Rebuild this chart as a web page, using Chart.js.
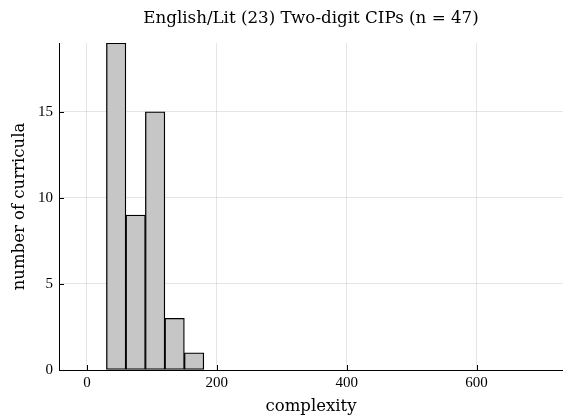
<!DOCTYPE html>
<html>
<head>
<meta charset="utf-8">
<script src="https://cdn.jsdelivr.net/npm/chart.js@4/dist/chart.umd.min.js"></script>
<style>
  html, body { margin: 0; padding: 0; background: #ffffff; }
  #wrap { width: 563px; height: 417px; }
</style>
</head>
<body>
<div id="wrap"><canvas id="c" width="563" height="417"></canvas></div>
<script>
// Histogram of curriculum complexity: left edge of each 30-wide bin and its count
const binLeft = [30, 60, 90, 120, 150, 180, 210, 240, 270, 300, 330,
                 360, 390, 420, 450, 480, 510, 540, 570, 600, 630, 660];
const binWidth = 30;
const counts = [19, 9, 15, 3, 1, 0, 0, 0, 0, 0, 0,
                0, 0, 0, 0, 0, 0, 0, 0, 0, 0, 0];
const xTicks = [0, 200, 400, 600];
const yTicks = [0, 5, 10, 15];

const titleText = 'English/Lit (23) Two-digit CIPs (n = 47)';
const xLabel = 'complexity';
const yLabel = 'number of curricula';

const serif = '"DejaVu Serif", serif';
const tickFont = { family: '"Liberation Serif", serif', size: 15 };
const gridColor = 'rgba(0,0,0,0.1)';

// short tick marks pointing into the plot area
const innerTicks = {
  id: 'innerTicks',
  afterDatasetsDraw(chart) {
    const { ctx, chartArea, scales } = chart;
    ctx.save();
    ctx.strokeStyle = '#000';
    ctx.lineWidth = 1;
    ctx.beginPath();
    xTicks.forEach(v => {
      const px = Math.round(scales.x.getPixelForValue(v)) + 0.5;
      ctx.moveTo(px, chartArea.bottom);
      ctx.lineTo(px, chartArea.bottom - 5);
    });
    yTicks.forEach(v => {
      const py = Math.round(scales.y.getPixelForValue(v)) + 0.5;
      ctx.moveTo(chartArea.left, py);
      ctx.lineTo(chartArea.left + 5, py);
    });
    ctx.stroke();
    ctx.restore();
  }
};

new Chart(document.getElementById('c'), {
  type: 'bar',
  data: {
    datasets: [{
      data: binLeft.map((b, i) => ({ x: b + binWidth / 2, y: counts[i] })),
      backgroundColor: '#c6c6c6',
      borderColor: '#000000',
      borderWidth: 1.3,
      borderSkipped: false,
      barPercentage: 1,
      categoryPercentage: 1
    }]
  },
  options: {
    responsive: false,
    animation: false,
    devicePixelRatio: 1,
    layout: { padding: { left: 0, right: 0, top: 0, bottom: 0 } },
    plugins: {
      legend: { display: false },
      tooltip: { enabled: false },
      title: {
        display: true,
        fullSize: false,
        text: titleText,
        color: '#000',
        font: { family: serif, size: 16.7, weight: 'normal', lineHeight: 1.2 },
        padding: { top: 9, bottom: 14 }
      }
    },
    scales: {
      x: {
        type: 'linear',
        min: -43,
        max: 733,
        offset: false,
        afterBuildTicks: s => { s.ticks = xTicks.map(v => ({ value: v })); },
        afterFit: s => { s.height = 47; },
        ticks: { color: '#000', font: tickFont, padding: 4, maxRotation: 0 },
        grid: { color: gridColor, drawTicks: false, offset: false },
        border: { color: '#000', width: 1 },
        title: {
          display: true, text: xLabel, color: '#000',
          font: { family: serif, size: 16.5, lineHeight: 1.2 },
          padding: { top: 0, bottom: 0 }
        }
      },
      y: {
        type: 'linear',
        min: 0,
        max: 19,
        afterBuildTicks: s => { s.ticks = yTicks.map(v => ({ value: v })); },
        afterFit: s => { s.width = 59; },
        ticks: { color: '#000', font: tickFont, padding: 6 },
        grid: { color: gridColor, drawTicks: false },
        border: { color: '#000', width: 1 },
        title: {
          display: true, text: yLabel, color: '#000',
          font: { family: serif, size: 16.5, lineHeight: 1.2 },
          padding: { top: 10, bottom: 0 }
        }
      }
    }
  },
  plugins: [innerTicks]
});
</script>
</body>
</html>
